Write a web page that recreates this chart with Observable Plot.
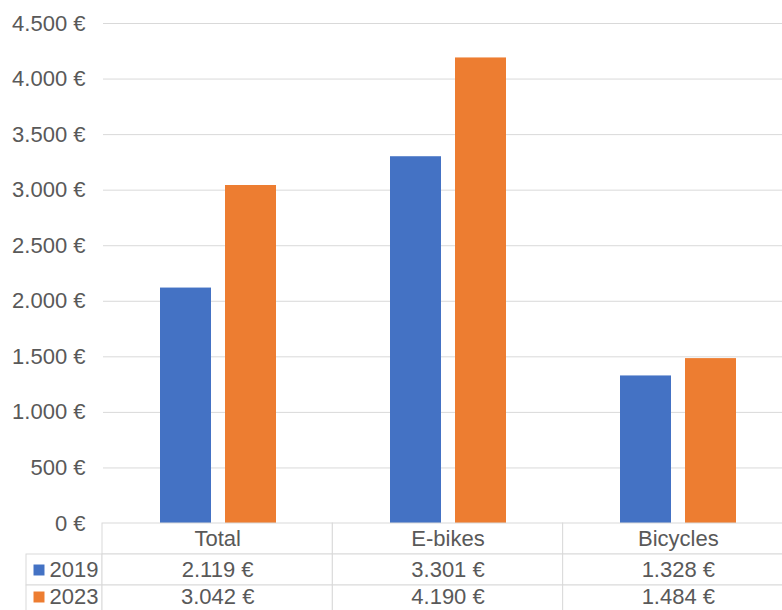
<!DOCTYPE html>
<html>
<head>
<meta charset="utf-8">
<script src="https://cdn.jsdelivr.net/npm/d3@7"></script>
<script src="https://cdn.jsdelivr.net/npm/@observablehq/plot@0.6"></script>
<style>
  html, body { margin: 0; padding: 0; background: #fff; overflow: hidden; }
  #chart { width: 782px; height: 610px; overflow: hidden; }
  #chart svg { display: block; max-width: none; overflow: visible; }
</style>
</head>
<body>
<div id="chart"></div>
<script>
// Average purchase price per bike, 2019 vs 2023
const categories = ["Total", "E-bikes", "Bicycles"];
const years = ["2019", "2023"];
const prices2019 = [2119, 3301, 1328];
const prices2023 = [3042, 4190, 1484];
const yTicks = [0, 500, 1000, 1500, 2000, 2500, 3000, 3500, 4000, 4500];
const yearColors = ["#4472C4", "#ED7D31"];

const pricesByYear = {"2019": prices2019, "2023": prices2023};
const rows = categories.flatMap((category, i) =>
  years.map(year => ({category, year, price: pricesByYear[year][i]}))
);

const euro = d3.formatLocale({decimal: ",", thousands: ".", grouping: [3], currency: ["", " €"]}).format("$,.0f");

const textColor = "#595959";
const lineColor = "#d9d9d9";
const fontSize = 22;
const font = {fontFamily: "'Liberation Sans', Arial, sans-serif", fontSize: fontSize + "px", color: textColor, background: "#fff", maxWidth: "none"};

// the last table column runs on past the right edge of the page
const W = 794;

const chart = Plot.plot({
  width: W,
  height: 523,
  marginTop: 23,
  marginBottom: 0,
  marginLeft: 102,
  marginRight: 1,
  style: font,
  fx: {domain: categories, padding: 0, axis: null},
  x: {domain: years, paddingInner: 0.212, paddingOuter: 0.85, axis: null},
  y: {domain: [0, 4500], axis: null},
  color: {domain: years, range: yearColors},
  marks: [
    Plot.gridY(yTicks, {stroke: lineColor, strokeOpacity: 1, strokeWidth: 1}),
    Plot.axisY(yTicks, {tickSize: 0, tickPadding: 18, tickFormat: euro, label: null}),
    Plot.barY(rows, {fx: "category", x: "year", y: "price", fill: "year"})
  ]
});

// data table under the chart: header row of categories, one row per year
const legendWidth = 76 / 230.33; // legend column, in table-column units
const tableRows = ["header", ...years];
const cells = [
  ...categories.map((c, i) => ({row: "header", x1: i, x2: i + 1})),
  ...years.flatMap(year => [
    {row: year, x1: -legendWidth, x2: 0},
    ...categories.map((c, i) => ({row: year, x1: i, x2: i + 1}))
  ])
];
const headerLabels = categories.map((c, i) => ({row: "header", col: i + 0.5, text: c}));
const valueLabels = rows.map(d => ({row: d.year, col: categories.indexOf(d.category) + 0.5, text: euro(d.price)}));
const legendRows = years.map(year => ({row: year, col: -legendWidth, year}));

// the last row is cut by the page edge; its contents sit a little higher so they stay whole
const lastRow = years[years.length - 1];
const inLastRow = d => d.row === lastRow;
const notLastRow = d => d.row !== lastRow;
const lift = -4;

const table = Plot.plot({
  width: W,
  height: 93,
  marginTop: 0,
  marginBottom: 0,
  marginLeft: 26,
  marginRight: 1,
  style: font,
  x: {domain: [-legendWidth, categories.length], axis: null},
  y: {domain: tableRows, padding: 0, axis: null},
  color: {domain: years, range: yearColors},
  marks: [
    Plot.barX(cells, {x1: "x1", x2: "x2", y: "row", fill: "#fff", stroke: lineColor, strokeWidth: 1}),
    Plot.text(headerLabels, {x: "col", y: "row", text: "text", fill: textColor, fontSize}),
    Plot.text(valueLabels.filter(notLastRow), {x: "col", y: "row", text: "text", fill: textColor, fontSize}),
    Plot.text(valueLabels.filter(inLastRow), {x: "col", y: "row", text: "text", fill: textColor, fontSize, dy: lift}),
    Plot.dot(legendRows.filter(notLastRow), {x: "col", y: "row", fill: "year", symbol: "square", r: 6.2, dx: 12.5}),
    Plot.dot(legendRows.filter(inLastRow), {x: "col", y: "row", fill: "year", symbol: "square", r: 6.2, dx: 12.5, dy: lift}),
    Plot.text(legendRows.filter(notLastRow), {x: "col", y: "row", text: "year", fill: textColor, fontSize, textAnchor: "start", dx: 23}),
    Plot.text(legendRows.filter(inLastRow), {x: "col", y: "row", text: "year", fill: textColor, fontSize, textAnchor: "start", dx: 23, dy: lift})
  ]
});

const root = document.getElementById("chart");
root.append(chart, table);
</script>
</body>
</html>
